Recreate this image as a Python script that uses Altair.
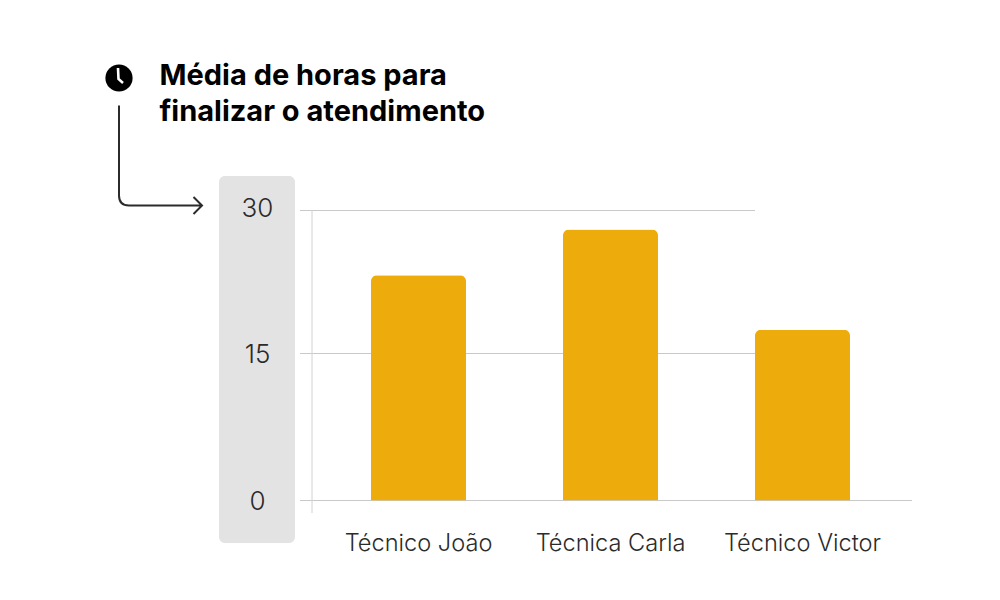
import altair as alt
import pandas as pd

categories = ["Técnico João", "Técnica Carla", "Técnico Victor"]
values = [23.2, 28.0, 17.5]
y_ticks = [0, 15, 30]
title_lines = ["Média de horas para", "finalizar o atendimento"]

FONT = "Inter"
GOLD = "#EEAC0C"
GRID = "#C9C9C9"
INK = "#2B2B2B"

df = pd.DataFrame({"tecnico": categories, "horas": values})

OX, OY = 8, 8  # page margin


def px(v):
    return alt.value(v - OX)


def py(v):
    return alt.value(v - OY)


y_scale = alt.Scale(domain=[0, 15, 30], range=[500.5 - OY, 353.5 - OY, 210.5 - OY])
x_scale = alt.Scale(domain=categories, range=[322.5 - OX, 898.5 - OX], paddingInner=0.505, paddingOuter=0.2525)

panel = alt.Chart(df.head(1)).mark_rect(color="#E3E3E3", cornerRadius=6).encode(
    x=px(219), x2=px(295), y=py(176), y2=py(543)
)


def hrule(v, x0, x1):
    return alt.Chart(pd.DataFrame({"v": [v]})).mark_rule(color=GRID, strokeWidth=1).encode(
        y=alt.Y("v:Q", scale=y_scale, title=None), x=px(x0), x2=px(x1)
    )


rules = hrule(30, 300, 755) + hrule(15, 300, 755) + hrule(0, 300, 912)

vline = alt.Chart(df.head(1)).mark_rule(color="#D2D2D2", strokeWidth=1).encode(
    x=px(312), y=py(210), y2=py(513)
)

bars = alt.Chart(df).mark_bar(color=GOLD, cornerRadiusTopLeft=6, cornerRadiusTopRight=6).encode(
    x=alt.X(
        "tecnico:N",
        scale=x_scale,
        sort=categories,
        title=None,
        axis=alt.Axis(
            orient="bottom", offset=543 - 592, domain=False, ticks=False, labelAngle=0, labelPadding=0,
            labelFont=FONT, labelFontSize=23.6, labelColor=INK, labelBaseline="middle", labelFontWeight=300,
            zindex=1, labelOverlap=False,
        ),
    ),
    y=alt.Y(
        "horas:Q",
        scale=y_scale,
        title=None,
        axis=alt.Axis(
            orient="left", values=y_ticks, offset=8 - 257, domain=False, ticks=False, grid=False, labelPadding=0,
            labelAlign="center", labelFont=FONT, labelFontSize=26, labelColor=INK, labelFontWeight=300,
            labelOffset=alt.expr("datum.value == 30 ? -2.5 : 0.5"), zindex=1,
        ),
    ),
)


def title_line(text, y):
    return alt.Chart(pd.DataFrame({"t": [text]})).mark_text(
        align="left", baseline="middle", font=FONT, fontSize=29, fontWeight=700, color="#000000"
    ).encode(text="t:N", x=px(159.5), y=py(y))


title = title_line(title_lines[0], 76) + title_line(title_lines[1], 111.5)

clock = alt.Chart(df.head(1)).mark_circle(size=740, color="#000000", opacity=1).encode(x=px(119), y=py(78))
hands = alt.Chart(df.head(1)).mark_point(
    shape="M-1 -10 L-0.5 1 L4 5", size=4, filled=False, stroke="#FFFFFF", strokeWidth=2.6, opacity=1
).encode(x=px(119), y=py(78))
arrow = alt.Chart(df.head(1)).mark_point(
    shape="M-42 -55 L-42 35 Q-42 45 -32 45 L41 45 M32.5 36.5 L41 45 L32.5 53.5",
    size=4, filled=False, stroke=INK, strokeWidth=2, opacity=1,
).encode(x=px(161), y=py(160.5))

chart = alt.layer(panel, rules, vline, bars, title, clock, hands, arrow).properties(
    width=984, height=584, padding=0, autosize=alt.AutoSizeParams(type="none"),
    background="#FFFFFF"
).configure_view(stroke=None)

chart.save("out.html", embed_options={"renderer": "svg", "actions": False})
